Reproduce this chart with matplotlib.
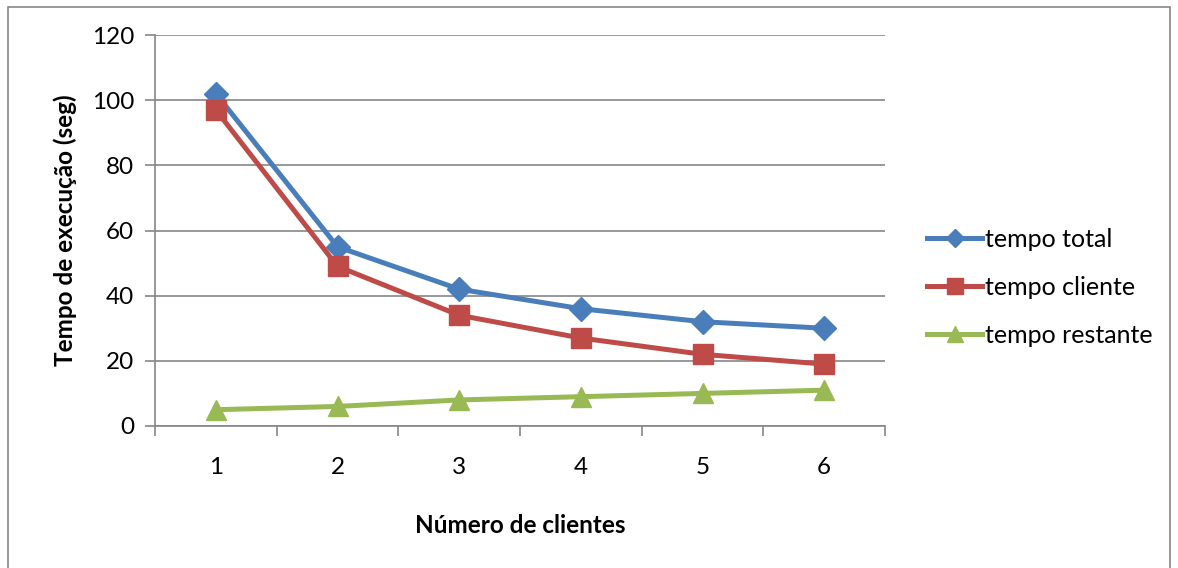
import matplotlib.pyplot as plt
from matplotlib.patches import Rectangle

clientes = [1, 2, 3, 4, 5, 6]
tempo_total = [102, 55, 42, 36, 32, 30]
tempo_cliente = [97, 49, 34, 27, 22, 19]
tempo_restante = [5, 6, 8, 9, 10, 11]

plt.rcParams['font.family'] = ['Lato', 'DejaVu Sans']

fig = plt.figure(figsize=(11.78, 5.68), dpi=100)
ax = fig.add_axes([155 / 1178, 1 - 426 / 568, 730 / 1178, 391 / 568])

# chart border
fig.patches.append(Rectangle((8 / 1178, -0.01), 1162 / 1178, 1 - 7 / 568 + 0.01,
                             transform=fig.transFigure, fill=False,
                             edgecolor='#868686', linewidth=1.2))

grid_color = '#868686'
ax.plot(clientes, tempo_total, color='#4A7EBB', lw=3.6, marker='D', ms=12,
        label='tempo total')
ax.plot(clientes, tempo_cliente, color='#BE4B48', lw=3.6, marker='s', ms=14,
        label='tempo cliente')
ax.plot(clientes, tempo_restante, color='#98B954', lw=3.6, marker='^', ms=15,
        label='tempo restante')

ax.set_xlim(0.5, 6.5)
ax.set_ylim(0, 120)
ax.set_yticks(range(0, 121, 20))
ax.set_xticks(clientes)
ax.set_xticks([0.5 + i for i in range(7)], minor=True)
ax.tick_params(axis='x', which='major', length=0, pad=22, labelsize=17.5)
ax.tick_params(axis='x', which='minor', length=7, width=1.2, color=grid_color)
ax.tick_params(axis='y', length=7, width=1.2, color=grid_color, pad=8,
               labelsize=17.5)
ax.yaxis.grid(True, color=grid_color, lw=1.2)
ax.set_axisbelow(True)
for side in ['top', 'right']:
    ax.spines[side].set_visible(False)
for side in ['left', 'bottom']:
    ax.spines[side].set_color(grid_color)
    ax.spines[side].set_linewidth(1.2)

ax.set_xlabel('Número de clientes', fontsize=17.5, fontweight='bold', labelpad=26)
ax.set_ylabel('Tempo de execução (seg)', fontsize=17.5, fontweight='bold',
              labelpad=11)

ax.legend(loc='center left', bbox_to_anchor=(1.027, 0.355), frameon=False,
          fontsize=18, handlelength=2.2, handletextpad=0.1, labelspacing=1.0,
          markerscale=0.8)

fig.savefig('out.png', dpi=100)
